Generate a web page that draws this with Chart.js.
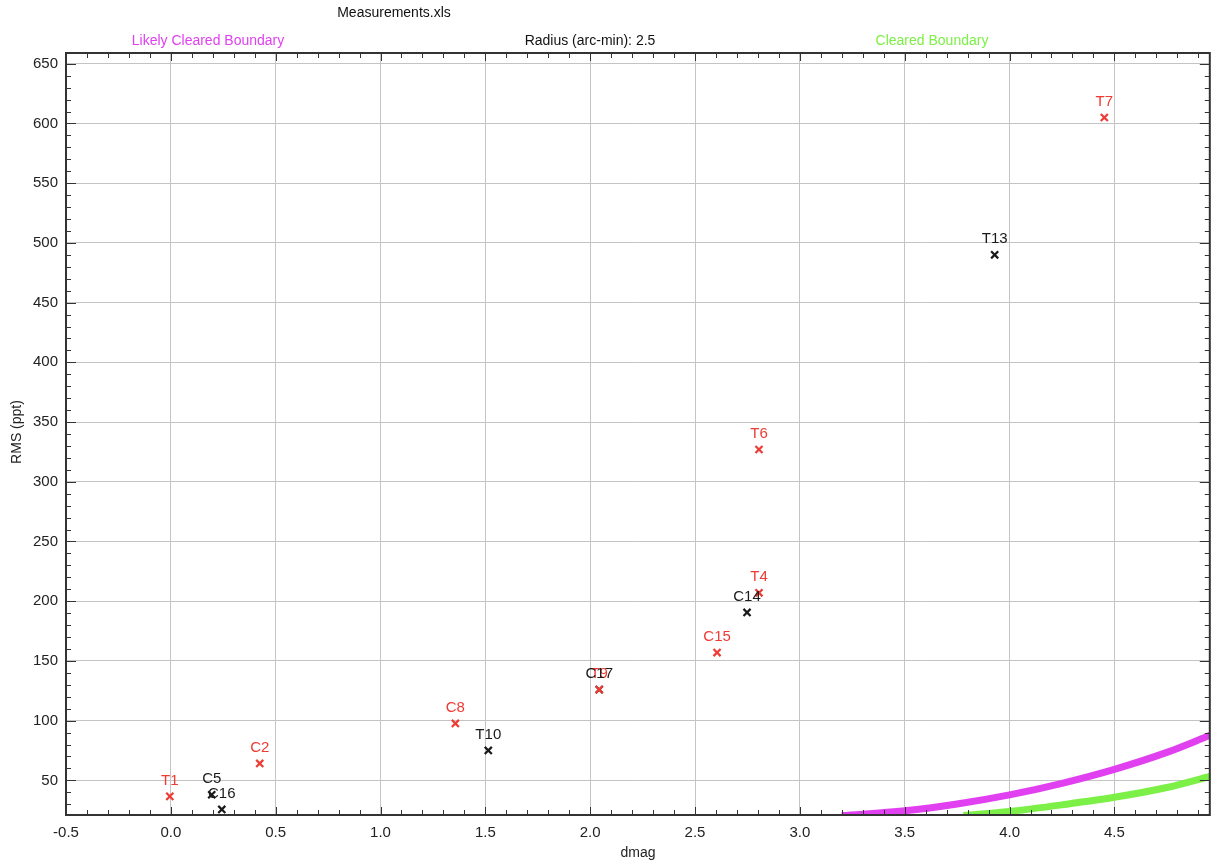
<!DOCTYPE html>
<html>
<head>
<meta charset="utf-8">
<title>Measurements.xls</title>
<script src="https://cdn.jsdelivr.net/npm/chart.js@4.4.1/dist/chart.umd.min.js"></script>
<style>
  html, body { margin: 0; padding: 0; background: #fff; }
  #chart { display: block; }
</style>
</head>
<body>
<canvas id="chart" width="1217" height="867"></canvas>
<script>
// red targets
const redNames = ["T1", "C2", "C8", "T9", "C15", "T4", "T6", "T7"];
const redDmag = [-0.005, 0.424, 1.357, 2.043, 2.605, 2.805, 2.805, 4.452];
const redRms = [36.6, 64.2, 97.7, 126, 157, 207, 327, 605];

// black targets
const blackNames = ["C5", "C16", "T10", "C17", "C14", "T13"];
const blackDmag = [0.195, 0.243, 1.514, 2.043, 2.748, 3.929];
const blackRms = [38, 25.7, 75.1, 126, 190.6, 490];

// boundary curves
const likelyDmag = [3.2, 3.5, 3.75, 4.0, 4.25, 4.5, 4.75, 4.96];
const likelyRms = [20.5, 24.5, 30.2, 37.8, 47.5, 59.2, 73.4, 88];
const clearedDmag = [3.78, 4.0, 4.25, 4.5, 4.75, 4.96];
const clearedRms = [20.5, 24, 29.5, 35.8, 44, 53.5];

const xTicks = [-0.5, 0, 0.5, 1, 1.5, 2, 2.5, 3, 3.5, 4, 4.5];
const yTicks = [50, 100, 150, 200, 250, 300, 350, 400, 450, 500, 550, 600, 650];

const RED = "#ee3b33";
const BLACK = "#1a1a1a";
const MAGENTA = "#e040f0";
const GREEN = "#7cf046";
const FONT = "'Liberation Sans', Arial, Helvetica, sans-serif";

const toXY = (xs, ys) => xs.map((x, i) => ({ x, y: ys[i] }));

// labels above the x markers + frame with inward ticks + titles
const decorPlugin = {
  id: "decor",
  afterDatasetsDraw(chart) {
    const { ctx, scales } = chart;
    const xs = scales.x, ys = scales.y;
    ctx.save();
    ctx.font = "15px " + FONT;
    ctx.textAlign = "center";
    ctx.textBaseline = "middle";
    const drawNames = (names, dx, dy, color) => {
      ctx.fillStyle = color;
      names.forEach((n, i) => {
        ctx.fillText(n, xs.getPixelForValue(dx[i]), ys.getPixelForValue(dy[i]) - 16);
      });
    };
    drawNames(redNames, redDmag, redRms, RED);
    drawNames(blackNames, blackDmag, blackRms, BLACK);
    ctx.restore();
  },
  afterDraw(chart) {
    const { ctx, chartArea: a, scales } = chart;
    const xs = scales.x, ys = scales.y;
    ctx.save();
    ctx.strokeStyle = "#333";
    ctx.lineWidth = 1;
    ctx.beginPath();
    // x ticks (top + bottom), every 0.1
    for (let i = -5; i <= 49; i++) {
      const px = Math.round(xs.getPixelForValue(i / 10)) + 0.5;
      const len = i % 5 === 0 ? 8 : 5;
      ctx.moveTo(px, a.bottom); ctx.lineTo(px, a.bottom - len);
      ctx.moveTo(px, a.top); ctx.lineTo(px, a.top + len);
    }
    // y ticks (left + right), every 10
    for (let v = 30; v <= 650; v += 10) {
      const py = Math.round(ys.getPixelForValue(v)) + 0.5;
      const len = v % 50 === 0 ? 10 : 5;
      ctx.moveTo(a.left, py); ctx.lineTo(a.left + len, py);
      ctx.moveTo(a.right, py); ctx.lineTo(a.right - len, py);
    }
    ctx.stroke();
    ctx.lineWidth = 2;
    ctx.strokeStyle = "#333";
    ctx.strokeRect(a.left, a.top, a.right - a.left, a.bottom - a.top);

    ctx.textBaseline = "middle";
    ctx.textAlign = "center";
    ctx.font = "14px " + FONT;
    ctx.fillStyle = "#111";
    ctx.fillText("Measurements.xls", 394, 13);
    ctx.fillText("Radius (arc-min): 2.5", 590, 41);
    ctx.fillStyle = MAGENTA;
    ctx.fillText("Likely Cleared Boundary", 208, 41);
    ctx.fillStyle = GREEN;
    ctx.fillText("Cleared Boundary", 932, 41);

    ctx.fillStyle = "#222";
    ctx.font = "14px " + FONT;
    ctx.fillText("dmag", 638, 853);
    ctx.translate(17, 432);
    ctx.rotate(-Math.PI / 2);
    ctx.fillText("RMS (ppt)", 0, 0);
    ctx.restore();
  }
};

const ctx = document.getElementById("chart").getContext("2d");
const chart = new Chart(ctx, {
  type: "scatter",
  data: {
    datasets: [
      {
        label: "Likely Cleared Boundary",
        data: toXY(likelyDmag, likelyRms),
        showLine: true,
        borderColor: MAGENTA,
        borderWidth: 7,
        pointRadius: 0,
        cubicInterpolationMode: "monotone",
        fill: false,
      },
      {
        label: "Cleared Boundary",
        data: toXY(clearedDmag, clearedRms),
        showLine: true,
        borderColor: GREEN,
        borderWidth: 7,
        pointRadius: 0,
        cubicInterpolationMode: "monotone",
        fill: false,
      },
      {
        label: "red",
        data: toXY(redDmag, redRms),
        pointStyle: "crossRot",
        pointRadius: 5,
        pointBorderWidth: 2.2,
        borderColor: RED,
        backgroundColor: RED,
      },
      {
        label: "black",
        data: toXY(blackDmag, blackRms),
        pointStyle: "crossRot",
        pointRadius: 5,
        pointBorderWidth: 2.2,
        borderColor: BLACK,
        backgroundColor: BLACK,
      },
    ],
  },
  options: {
    responsive: false,
    animation: false,
    devicePixelRatio: 1,
    layout: { padding: { top: 53, right: -3, left: 0, bottom: 0 } },
    plugins: {
      legend: { display: false },
      tooltip: { enabled: false },
    },
    scales: {
      x: {
        type: "linear",
        min: -0.5,
        max: 4.955,
        afterBuildTicks: (s) => { s.ticks = xTicks.map((v) => ({ value: v })); },
        afterFit: (s) => { s.height = 52; },
        ticks: {
          color: "#222",
          font: { family: FONT, size: 15 },
          padding: 9,
          maxRotation: 0,
          callback: (v) => Number(v).toFixed(1),
        },
        grid: { color: "#c4c4c4", lineWidth: 1, drawTicks: false },
        border: { display: false },
      },
      y: {
        type: "linear",
        min: 21,
        max: 659,
        afterBuildTicks: (s) => { s.ticks = yTicks.map((v) => ({ value: v })); },
        afterFit: (s) => { s.width = 66; },
        ticks: {
          color: "#222",
          font: { family: FONT, size: 15 },
          padding: 8,
        },
        grid: { color: "#c4c4c4", lineWidth: 1, drawTicks: false },
        border: { display: false },
      },
    },
  },
  plugins: [decorPlugin],
});
</script>
</body>
</html>
